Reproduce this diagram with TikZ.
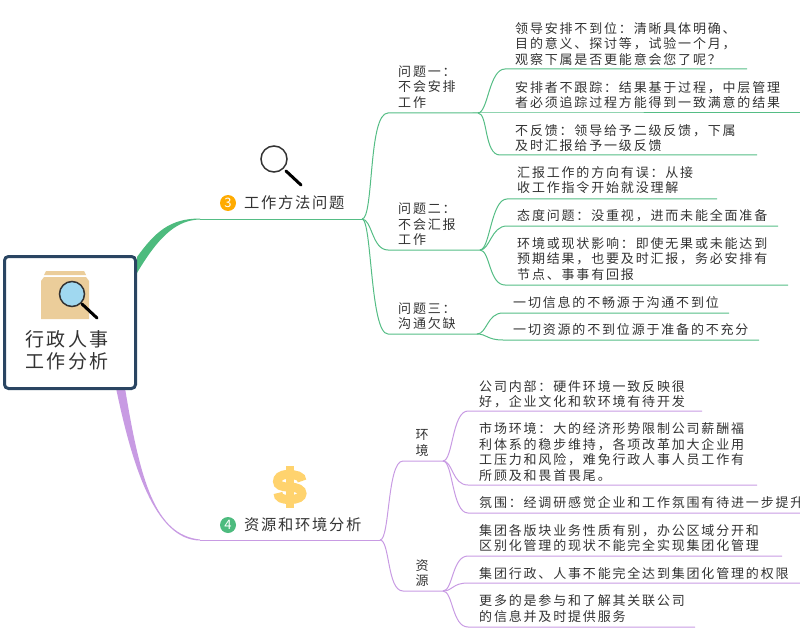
\documentclass[tikz,border=0pt]{standalone}
\usepackage{fontspec}
\setmainfont{Noto Sans CJK SC}
\newfontfamily\cjk[LetterSpace=14]{Noto Sans CJK SC}
\newfontfamily\cjktop[LetterSpace=11]{Noto Sans CJK SC}
\definecolor{gr}{HTML}{55BD85}
\definecolor{grfill}{HTML}{4DBB7E}
\definecolor{pu}{HTML}{C89BE3}
\definecolor{navy}{HTML}{2A4562}
\definecolor{tx}{HTML}{333333}
\definecolor{beige}{HTML}{EBCD9A}
\definecolor{lens}{HTML}{A0D8F0}
\definecolor{gold}{HTML}{FFD36E}
\definecolor{amber}{HTML}{FFAB00}
\tikzset{
  gline/.style={draw=gr,line width=1pt},
  pline/.style={draw=pu,line width=1pt},
  leaf/.style={anchor=west,inner sep=0pt,align=left,text=tx,font=\cjk\fontsize{13}{15.6}\selectfont},
  vleaf/.style={anchor=center,inner sep=0pt,align=center,text=tx,font=\fontsize{13}{15.6}\selectfont},
  toplabel/.style={anchor=west,inner sep=0pt,text=tx,font=\cjktop\fontsize{15.3}{18}\selectfont},
  badge/.style={circle,inner sep=0pt,minimum size=16pt,text=white,font=\fontsize{13}{14}\selectfont},
  rootbox/.style={draw=navy,line width=3pt,rounded corners=4pt,fill=white,minimum width=131pt,minimum height=132pt,inner sep=0pt},
}
\newcommand\branchline[6]{%
  \coordinate (#2s) at (#4,#5);
  \coordinate (#2e) at (#6,#5);
  \draw[#1] (#3) .. controls +(10,0) and +(-16,0) .. (#2s) -- (#2e);
}
\begin{document}
\begin{tikzpicture}[x=1pt,y=-1pt]
\useasboundingbox (0,0) rectangle (800,639);
% main branches
\fill[grfill] (137,257) .. controls (155,232) and (170,218.5) .. (200,218.5) -- (200,219.5) .. controls (178,220) and (160,234) .. (137,273) -- cycle;
\fill[pu] (116,388) .. controls (132,465) and (155,540) .. (200,540.5) -- (200,539.5) .. controls (155,535) and (140,480) .. (125,388) -- cycle;
% root
\node[rootbox] (root) at (70,322.5) {};
\node[inner sep=0pt,align=center,text=tx,font=\cjk\fontsize{19}{22}\selectfont] (rootlabel) at (67,350) {行政人事\\工作分析};
% root icon
\fill[beige] (46,271) -- (84,271) -- (86,275) -- (44,275) -- cycle;
\fill[beige] (44,277) -- (86,277) -- (89,281) -- (89,319) -- (41,319) -- (41,281) -- cycle;
\draw[black,line width=3pt,line cap=round] (82,304) -- (97,318);
\draw[fill=lens,draw=tx,line width=1.5pt] (72,294) circle (12.5);
% top icon
\draw[black,line width=3pt,line cap=round] (286,171) -- (301,185);
\draw[draw=tx,line width=1.5pt] (274,159) circle (13);
% dollar icon
\fill[gold] (286,466) rectangle (294,508);
\draw[gold,line width=9pt] (302,481) .. controls (302,476) and (296,474.5) .. (288,474.5) .. controls (280,474.5) and (277.5,478) .. (277.5,481.5) .. controls (277.5,485) and (281,487) .. (289,487) .. controls (298,487) and (302,490) .. (302,493.5) .. controls (302,497) and (298,499.5) .. (290,499.5) .. controls (282,499.5) and (278,498) .. (278,493);
% topic labels
\node[badge,fill=amber] (b3) at (228,203) {3};
\node[toplabel] (t3) at (244,203) {工作方法问题};
\node[badge,fill=grfill] (b4) at (228,525) {4};
\node[toplabel] (t4) at (244,525) {资源和环境分析};
% green structure
\coordinate (g0) at (200,219);
\coordinate (gj) at (362,219);
\draw[gline] (g0) -- (gj);
\coordinate (j1) at (478,113);
\coordinate (j2) at (480,250);
\coordinate (j3) at (477,334);
\coordinate (a1) at (388,113);
\coordinate (a2) at (388,250);
\coordinate (a3) at (388,334);
\draw[gline] (gj) .. controls +(12,0) and +(-20,0) .. (a1) -- (j1);
\draw[gline] (gj) .. controls +(10,0) and +(-16,0) .. (a2) -- (j2);
\draw[gline] (gj) .. controls +(10,0) and +(-18,0) .. (a3) -- (j3);
\branchline{gline}{l11}{j1}{505}{69}{747}
\branchline{gline}{l12}{j1}{478}{113}{800}
\branchline{gline}{l13}{j1}{500}{155}{757}
\branchline{gline}{l21}{j2}{507}{199}{717}
\branchline{gline}{l22}{j2}{507}{226}{778}
\branchline{gline}{l23}{j2}{505}{285}{788}
\branchline{gline}{l31}{j3}{503}{313}{729}
\branchline{gline}{l32}{j3}{503}{340}{759}
% purple structure
\coordinate (p0) at (200,540);
\coordinate (pj) at (380,540);
\draw[pline] (p0) -- (pj);
\coordinate (k1) at (443,461);
\coordinate (k2) at (443,591);
\coordinate (c1) at (403,461);
\coordinate (c2) at (403,591);
\draw[pline] (pj) .. controls +(10,0) and +(-16,0) .. (c1) -- (k1);
\draw[pline] (pj) .. controls +(10,0) and +(-16,0) .. (c2) -- (k2);
\branchline{pline}{m11}{k1}{468}{411}{702}
\branchline{pline}{m12}{k1}{468}{485}{757}
\branchline{pline}{m13}{k1}{468}{513}{800}
\branchline{pline}{m21}{k2}{468}{556}{782}
\branchline{pline}{m22}{k2}{468}{583}{800}
\branchline{pline}{m23}{k2}{468}{627}{695}
% labels
\node[leaf] (q1) at (398,87) {问题一：\\不会安排\\工作};
\node[leaf] (q2) at (398,224.5) {问题二：\\不会汇报\\工作};
\node[leaf] (q3) at (398,316) {问题三：\\沟通欠缺};
\node[leaf] (x11) at (515,44) {领导安排不到位：清晰具体明确、\\目的意义、探讨等，试验一个月，\\观察下属是否更能意会您了呢？};
\node[leaf] (x12) at (515,95) {安排者不跟踪：结果基于过程，中层管理\\者必须追踪过程方能得到一致满意的结果};
\node[leaf] (x13) at (515,138) {不反馈：领导给予二级反馈，下属\\及时汇报给予一级反馈};
\node[leaf] (x21) at (517,180) {汇报工作的方向有误：从接\\收工作指令开始就没理解};
\node[leaf] (x22) at (517,216) {态度问题：没重视，进而未能全面准备};
\node[leaf] (x23) at (517,259) {环境或现状影响：即使无果或未能达到\\预期结果，也要及时汇报，务必安排有\\节点、事事有回报};
\node[leaf] (x31) at (513,303) {一切信息的不畅源于沟通不到位};
\node[leaf] (x32) at (513,330) {一切资源的不到位源于准备的不充分};
\node[vleaf] (e) at (422,443) {环\\境};
\node[vleaf] (r) at (422,573) {资\\源};
\node[leaf] (y11) at (479,394) {公司内部：硬件环境一致反映很\\好，企业文化和软环境有待开发};
\node[leaf] (y12) at (479,452) {市场环境：大的经济形势限制公司薪酬福\\利体系的稳步维持，各项改革加大企业用\\工压力和风险，难免行政人事人员工作有\\所顾及和畏首畏尾。};
\node[leaf] (y13) at (479,503) {氛围：经调研感觉企业和工作氛围有待进一步提升};
\node[leaf] (y21) at (479,538) {集团各版块业务性质有别，办公区域分开和\\区别化管理的现状不能完全实现集团化管理};
\node[leaf] (y22) at (479,574) {集团行政、人事不能完全达到集团化管理的权限};
\node[leaf] (y23) at (479,608.5) {更多的是参与和了解其关联公司\\的信息并及时提供服务};
\end{tikzpicture}
\end{document}
